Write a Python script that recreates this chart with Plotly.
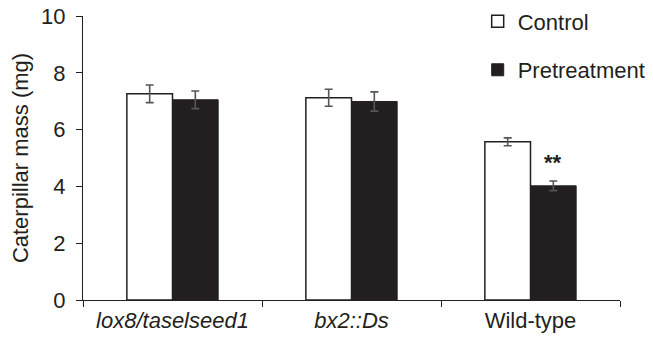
import plotly.graph_objects as go

categories = ["lox8/taselseed1", "bx2::Ds", "Wild-type"]
tick_labels = ["<i>lox8/taselseed1</i>", "<i>bx2::Ds</i>", "Wild-type"]
control = [7.26, 7.12, 5.57]
control_err = [0.31, 0.30, 0.14]
pretreat = [7.05, 6.99, 4.02]
pretreat_err = [0.31, 0.34, 0.17]
y_ticks = [0, 2, 4, 6, 8, 10]

ink = "#231f20"
font = "Liberation Sans, Arial, sans-serif"

fig = go.Figure()
fig.add_trace(go.Bar(
    x=categories, y=control, name="Control", legendgroup="a",
    marker=dict(color="white", line=dict(color=ink, width=1.5)),
    error_y=dict(type="data", array=control_err, color="#555555", thickness=1.6, width=4),
))
fig.add_trace(go.Bar(
    x=categories, y=pretreat, name="Pretreatment", legendgroup="b",
    marker=dict(color=ink, line=dict(color=ink, width=1)),
    error_y=dict(type="data", array=pretreat_err, color="#555555", thickness=1.6, width=4),
))

fig.add_annotation(x=categories[2], y=pretreat[2] + pretreat_err[2] + 0.15, text="<b>**</b>",
                   showarrow=False, xshift=22, yanchor="bottom",
                   font=dict(size=22, color=ink, family=font))

fig.update_layout(
    width=653, height=348,
    margin=dict(l=83, r=33, t=16, b=48, autoexpand=False),
    paper_bgcolor="white", plot_bgcolor="white",
    barmode="group", bargap=0.49, bargroupgap=0,
    font=dict(family=font, color=ink, size=22),
    showlegend=True,
    legend=dict(x=0.735, y=1.055, xanchor="left", yanchor="top",
                traceorder="grouped", tracegroupgap=17,
                font=dict(size=22, color=ink, family=font),
                bgcolor="rgba(0,0,0,0)", itemwidth=30),
)
fig.update_xaxes(
    categoryorder="array", categoryarray=categories,
    tickvals=categories, ticktext=tick_labels,
    tickson="boundaries", ticks="outside", ticklen=6, tickcolor=ink, tickwidth=1.2,
    showline=True, linecolor=ink, linewidth=1.4,
    tickfont=dict(size=22, color=ink, family=font),
    showgrid=False,
)
fig.update_yaxes(
    range=[0, 10], tickvals=y_ticks, ticks="outside", ticklen=6, tickcolor=ink, tickwidth=1.2,
    showline=True, linecolor=ink, linewidth=1.4, showgrid=False, zeroline=False,
    tickfont=dict(size=22, color=ink, family=font), ticklabelstandoff=6,
    title=dict(text="Caterpillar mass (mg)", font=dict(size=22, color=ink, family=font), standoff=6),
)

fig.write_html("out.html")
